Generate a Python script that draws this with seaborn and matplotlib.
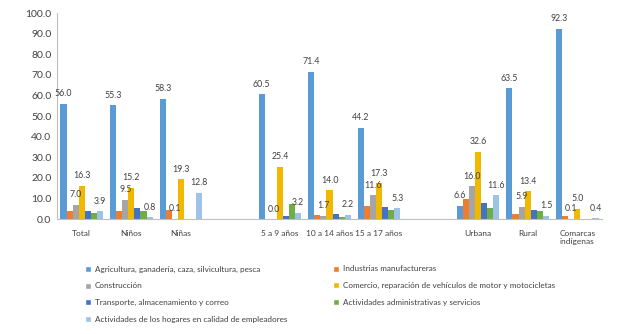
import matplotlib
matplotlib.use("Agg")
import matplotlib.pyplot as plt
import seaborn as sns
import pandas as pd
import numpy as np

# Groups (blank slots separate sex, age and area blocks)
categories = ["Total", "Niños", "Niñas", " ", "5 a 9 años", "10 a 14 años",
              "15 a 17 años", "  ", "Urbana", "Rural", "Comarcas\nindígenas"]

series = [
    "Agricultura, ganadería, caza, silvicultura, pesca",
    "Industrias manufactureras",
    "Construcción",
    "Comercio, reparación de vehículos de motor y motocicletas",
    "Transporte, almacenamiento y correo",
    "Actividades administrativas y servicios",
    "Actividades de los hogares en calidad de empleadores",
]

# values per group, in category order (blank slots excluded)
groups = ["Total", "Niños", "Niñas", "5 a 9 años", "10 a 14 años",
          "15 a 17 años", "Urbana", "Rural", "Comarcas\nindígenas"]
agricultura = [56.0, 55.3, 58.3, 60.5, 71.4, 44.2, 6.6, 63.5, 92.3]
industrias = [4.0, 4.0, 4.4, 0.0, 2.1, 6.2, 9.9, 2.6, 1.6]
construccion = [7.0, 9.5, 0.1, 0.0, 1.7, 11.6, 16.0, 5.9, 0.1]
comercio = [16.3, 15.2, 19.3, 25.4, 14.0, 17.3, 32.6, 13.4, 5.0]
transporte = [4.0, 5.6, 0.0, 1.4, 2.6, 5.8, 7.6, 4.5, 0.0]
administrativas = [2.9, 4.0, 0.0, 7.2, 1.0, 4.5, 5.3, 3.7, 0.0]
hogares = [3.9, 0.8, 12.8, 3.2, 2.2, 5.3, 11.6, 1.5, 0.4]

labeled = {series[0], series[2], series[3], series[6]}

colors = ["#5B9BD5", "#ED7D31", "#A5A5A5", "#F2B800", "#4472C4", "#70AD47", "#9DC3E6"]

values = [agricultura, industrias, construccion, comercio, transporte,
          administrativas, hogares]
rows = []
for s, vals in zip(series, values):
    for g, v in zip(groups, vals):
        rows.append({"grupo": g, "sector": s, "valor": v})
df = pd.DataFrame(rows)

sns.set_theme(style="white")
plt.rcParams["font.family"] = ["Lato", "DejaVu Sans"]

fig = plt.figure(figsize=(6.36, 3.34), dpi=100)
ax = fig.add_axes([0.0896, 0.344, 0.857, 0.617])

sns.barplot(data=df, x="grupo", y="valor", hue="sector", order=categories,
            hue_order=series, palette=colors, width=0.86, gap=0,
            saturation=1, errorbar=None, ax=ax, legend=True)

for cont, s in zip(ax.containers, series):
    for b in cont:
        b.set_edgecolor("none")
    if s in labeled:
        ax.bar_label(cont, fmt="%.1f", padding=4, fontsize=6.3, color="#404040")

ax.set_ylim(0, 100)
ax.set_yticks(np.arange(0, 101, 10))
ax.set_yticklabels([f"{v:.1f}" for v in np.arange(0, 101, 10)], fontsize=7.5,
                   color="#404040")
ax.tick_params(axis="x", labelsize=6, colors="#404040", pad=8, length=0)
ax.tick_params(axis="y", length=0, pad=4)
ax.set_xlabel("")
ax.set_ylabel("")
for side in ["top", "right"]:
    ax.spines[side].set_visible(False)
for side in ["left", "bottom"]:
    ax.spines[side].set_color("#BFBFBF")
    ax.spines[side].set_linewidth(0.8)

handles, labels = ax.get_legend_handles_labels()
ax.get_legend().remove()
order = [0, 2, 4, 6, 1, 3, 5]
leg = fig.legend([handles[i] for i in order], [labels[i] for i in order],
                 loc="upper left", bbox_to_anchor=(0.128, 0.215), ncol=2,
                 frameon=False, fontsize=5.9, handlelength=0.75,
                 handleheight=0.75, handletextpad=0.45, columnspacing=5.6,
                 labelspacing=1.2, borderaxespad=0)
for t in leg.get_texts():
    t.set_color("#404040")

fig.savefig("out.png", dpi=100)
